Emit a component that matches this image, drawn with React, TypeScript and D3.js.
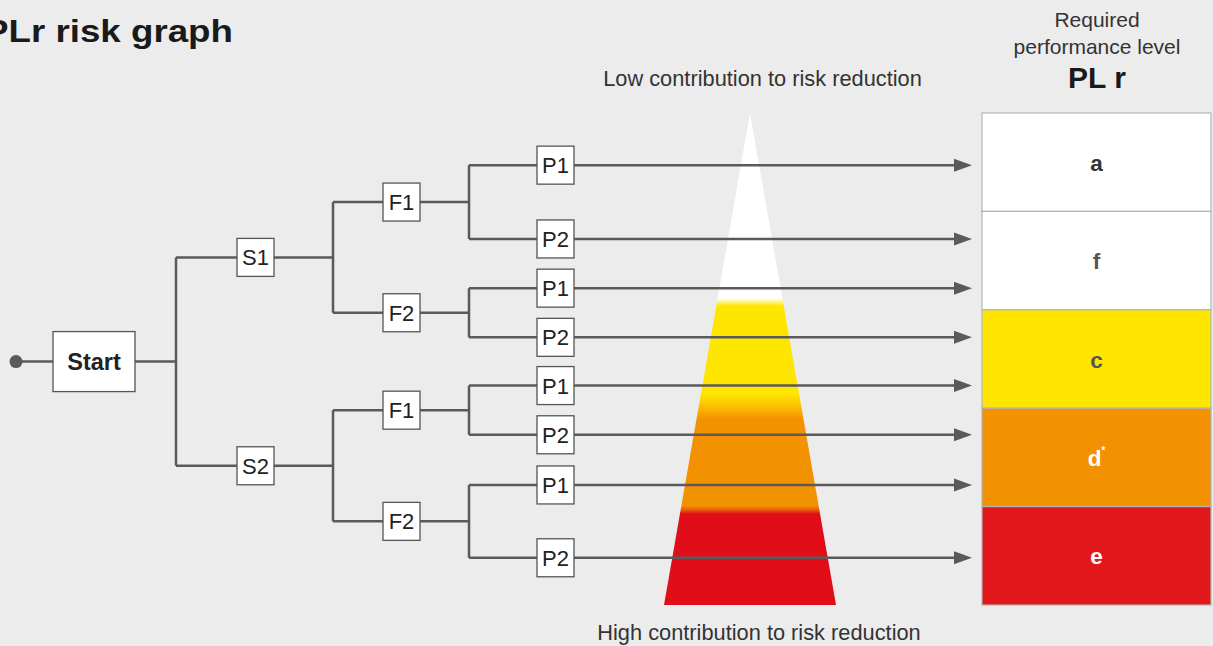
import React from 'react';
import * as d3 from 'd3';

// ---- data ----
const levels = ['a', 'f', 'c', 'd', 'e'];
const levelFill = ['#ffffff', '#ffffff', '#ffe600', '#f39200', '#e2171c'];
const levelText = ['#333333', '#555555', '#555555', '#ffffff', '#ffffff'];
const levelSup = ['', '', '', '*', ''];
// leaf positions expressed in PL-level units (0 = top of "a", 5 = bottom of "e")
const leafPos = [0.53, 1.28, 1.78, 2.28, 2.77, 3.27, 3.78, 4.52];
const leafLabels = ['P1', 'P2', 'P1', 'P2', 'P1', 'P2', 'P1', 'P2'];
const fLabels = ['F1', 'F2', 'F1', 'F2'];
const sLabels = ['S1', 'S2'];
const rootLabel = 'Start';
const gradStops = [
  { y: 0, c: '#ffffff' },
  { y: 185, c: '#ffffff' },
  { y: 193, c: '#ffe600' },
  { y: 281, c: '#ffe600' },
  { y: 293, c: '#fcc000' },
  { y: 306, c: '#f39200' },
  { y: 393, c: '#f39200' },
  { y: 397, c: '#e8590c' },
  { y: 401, c: '#e10e19' },
  { y: 492, c: '#e10e19' },
];

const W = 1213;
const H = 646;
const FONT = '"Liberation Sans", Arial, Helvetica, sans-serif';
const LINE = '#5a5a5a';

export default function App() {
  const y = d3.scaleLinear().domain([0, 5]).range([113, 605]);
  const band = d3.scaleBand<string>().domain(levels).range([113, 605]);
  const col = d3.scaleOrdinal<string, number>()
    .domain(['start', 's', 'f', 'p'])
    .range([94, 255.5, 401.5, 555.5]);
  const joinX = d3.scaleOrdinal<string, number>()
    .domain(['s', 'f', 'p'])
    .range([176, 333, 469]);
  const gradY = d3.scaleLinear().domain([0, 492]).range([113, 605]);

  const leafY = leafPos.map((p) => y(p));
  const fY = fLabels.map((_, i) => (leafY[2 * i] + leafY[2 * i + 1]) / 2);
  const sY = sLabels.map((_, i) => (fY[2 * i] + fY[2 * i + 1]) / 2);
  const rootY = (sY[0] + sY[1]) / 2;

  const bw = 37;
  const bh = 38;
  const arrowEnd = 972;
  const arrowLen = 18;
  const arrowHalf = 6.5;
  const plX = 982;
  const plW = 229;

  const node = (cx: number, cy: number, label: string, key: string) => (
    <g key={key}>
      <rect x={cx - bw / 2} y={cy - bh / 2} width={bw} height={bh} fill="#fff" stroke="#555" strokeWidth={1.3} />
      <text x={cx} y={cy + 8} textAnchor="middle" fontSize={22} fill="#222" fontFamily={FONT}>{label}</text>
    </g>
  );

  const lines: React.ReactNode[] = [];
  lines.push(<line key="st" x1={16} x2={53} y1={rootY} y2={rootY} stroke={LINE} strokeWidth={2.5} />);
  lines.push(<line key="st2" x1={135} x2={joinX('s')} y1={rootY} y2={rootY} stroke={LINE} strokeWidth={2.5} />);
  lines.push(<line key="sv" x1={joinX('s')} x2={joinX('s')} y1={sY[0]} y2={sY[1]} stroke={LINE} strokeWidth={2.5} />);
  sY.forEach((sy, i) => {
    lines.push(<line key={'sh' + i} x1={joinX('s')} x2={joinX('f')} y1={sy} y2={sy} stroke={LINE} strokeWidth={2.5} />);
    lines.push(<line key={'fv' + i} x1={joinX('f')} x2={joinX('f')} y1={fY[2 * i]} y2={fY[2 * i + 1]} stroke={LINE} strokeWidth={2.5} />);
  });
  fY.forEach((fy, i) => {
    lines.push(<line key={'fh' + i} x1={joinX('f')} x2={joinX('p')} y1={fy} y2={fy} stroke={LINE} strokeWidth={2.5} />);
    lines.push(<line key={'pv' + i} x1={joinX('p')} x2={joinX('p')} y1={leafY[2 * i]} y2={leafY[2 * i + 1]} stroke={LINE} strokeWidth={2.5} />);
  });
  leafY.forEach((ly, i) => {
    lines.push(<line key={'ph' + i} x1={joinX('p')} x2={arrowEnd - arrowLen + 1} y1={ly} y2={ly} stroke={LINE} strokeWidth={2.5} />);
    lines.push(
      <path key={'ah' + i} d={`M${arrowEnd - arrowLen},${ly - arrowHalf}L${arrowEnd},${ly}L${arrowEnd - arrowLen},${ly + arrowHalf}Z`} fill={LINE} />
    );
  });

  const apexX = 750;
  const tri = `M${apexX},${y(0)}L${836},${y(5)}L${664},${y(5)}Z`;

  return (
    <div style={{ position: 'absolute', left: 0, top: 0, width: W, height: H }}>
      <svg width={W} height={H} style={{ display: 'block' }}>
        <defs>
          <linearGradient id="triGrad" gradientUnits="userSpaceOnUse" x1={0} x2={0} y1={y(0)} y2={y(5)}>
            {gradStops.map((s, i) => (
              <stop key={i} offset={(gradY(s.y) - y(0)) / (y(5) - y(0))} stopColor={s.c} />
            ))}
          </linearGradient>
        </defs>
        <rect x={0} y={0} width={W} height={H} fill="#ececec" />

        <text x={-16} y={42} fontSize={31} fontWeight="bold" fill="#1a1a1a" fontFamily={FONT} textLength={249} lengthAdjust="spacingAndGlyphs">PLr risk graph</text>

        <text x={1097} y={27} textAnchor="middle" fontSize={21} fill="#333" fontFamily={FONT}>Required</text>
        <text x={1097} y={54} textAnchor="middle" fontSize={21} fill="#333" fontFamily={FONT}>performance level</text>
        <text x={1097} y={88} textAnchor="middle" fontSize={30} fontWeight="bold" fill="#1a1a1a" fontFamily={FONT}>PL r</text>

        <text x={762.5} y={86} textAnchor="middle" fontSize={21.8} fill="#333" fontFamily={FONT}>Low contribution to risk reduction</text>
        <text x={759} y={640} textAnchor="middle" fontSize={21.8} fill="#333" fontFamily={FONT}>High contribution to risk reduction</text>

        <path d={tri} fill="url(#triGrad)" />

        {lines}
        <circle cx={16} cy={rootY} r={6.5} fill={LINE} />

        <rect x={53} y={rootY - 30} width={82} height={60} fill="#fff" stroke="#555" strokeWidth={1.3} />
        <text x={col('start')} y={rootY + 8.5} textAnchor="middle" fontSize={23.5} fontWeight="bold" fill="#222" fontFamily={FONT}>{rootLabel}</text>

        {sY.map((sy, i) => node(col('s'), sy, sLabels[i], 's' + i))}
        {fY.map((fy, i) => node(col('f'), fy, fLabels[i], 'f' + i))}
        {leafY.map((ly, i) => node(col('p'), ly, leafLabels[i], 'p' + i))}

        {levels.map((l, i) => {
          const by = band(l)!;
          const bhh = band.bandwidth();
          return (
            <g key={l}>
              <rect x={plX} y={by} width={plW} height={bhh} fill={levelFill[i]} stroke="#b4b4b4" strokeWidth={1.2} />
              <text x={plX + plW / 2} y={by + bhh / 2 + 8.5} textAnchor="middle" fontSize={22.5} fontWeight="bold" fill={levelText[i]} fontFamily={FONT}>
                {l}
                {levelSup[i] && <tspan fontSize={10} dy={-12}>{levelSup[i]}</tspan>}
              </text>
            </g>
          );
        })}
      </svg>
    </div>
  );
}
